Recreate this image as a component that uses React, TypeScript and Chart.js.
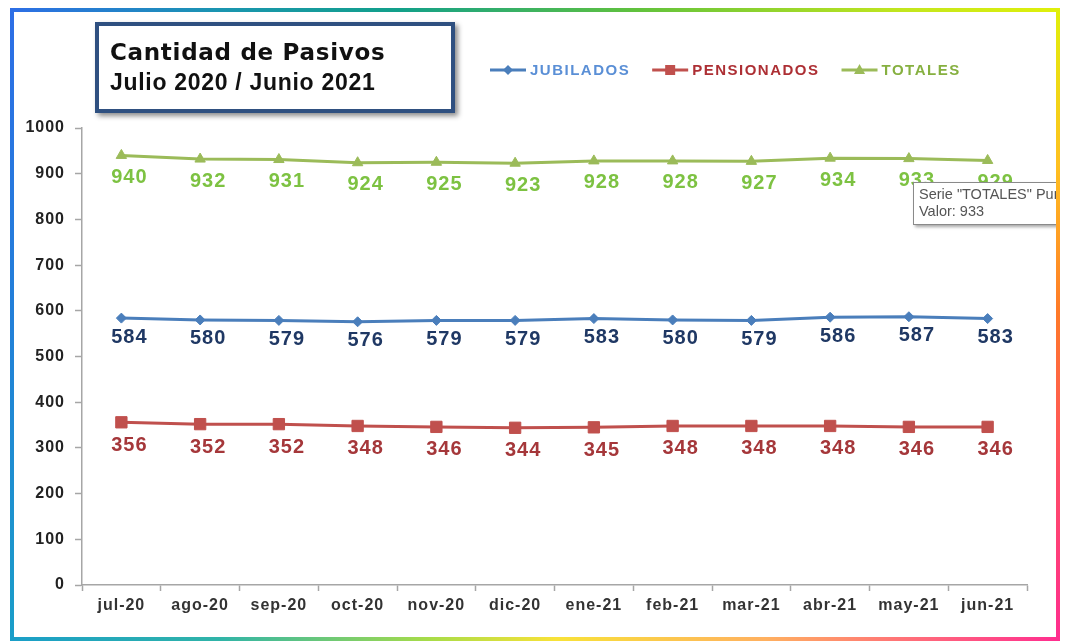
import React, { useEffect, useRef } from "react";
import { Chart, registerables } from "chart.js";

Chart.register(...registerables);

const MONTHS = ["jul-20", "ago-20", "sep-20", "oct-20", "nov-20", "dic-20", "ene-21", "feb-21", "mar-21", "abr-21", "may-21", "jun-21"];
const JUBILADOS = [584, 580, 579, 576, 579, 579, 583, 580, 579, 586, 587, 583];
const PENSIONADOS = [356, 352, 352, 348, 346, 344, 345, 348, 348, 348, 346, 346];
const TOTALES = [940, 932, 931, 924, 925, 923, 928, 928, 927, 934, 933, 929];
const SERIES_NAMES = ["JUBILADOS", "PENSIONADOS", "TOTALES"];
const Y_MIN = 0;
const Y_MAX = 1000;
const Y_STEP = 100;
const TITLE_LINES = ["Cantidad de Pasivos", "Julio 2020 / Junio 2021"];
const TOOLTIP_LINES = ['Serie "TOTALES" Punto "may-21"', "Valor: 933"];

const FONT = '"Liberation Sans", Arial, Helvetica, sans-serif';

const STYLE = [
  { line: "#4a7ebb", label: "#1f3864", legend: "#5a8fd6", marker: "diamond", pointStyle: "rectRot", radius: 5, offset: 19 },
  { line: "#c0504d", label: "#a5373a", legend: "#ad2f34", marker: "square", pointStyle: "rect", radius: 8, offset: 23 },
  { line: "#9bbb59", label: "#7dc242", legend: "#86b040", marker: "triangle", pointStyle: "triangle", radius: 6, offset: 22 },
];

function drawMarker(ctx: CanvasRenderingContext2D, kind: string, x: number, y: number, color: string) {
  ctx.fillStyle = color;
  ctx.beginPath();
  if (kind === "diamond") {
    ctx.moveTo(x, y - 5);
    ctx.lineTo(x + 5, y);
    ctx.lineTo(x, y + 5);
    ctx.lineTo(x - 5, y);
  } else if (kind === "square") {
    ctx.rect(x - 5, y - 5, 10, 10);
  } else {
    ctx.moveTo(x, y - 6);
    ctx.lineTo(x + 5.5, y + 4);
    ctx.lineTo(x - 5.5, y + 4);
  }
  ctx.closePath();
  ctx.fill();
}

const spacingPlugin = {
  id: "spacing",
  beforeDraw(chart: any) {
    (chart.ctx as any).letterSpacing = "1px";
  },
  afterDraw(chart: any) {
    (chart.ctx as any).letterSpacing = "0px";
  },
};

const labelPlugin = {
  id: "pointLabels",
  afterDatasetsDraw(chart: any) {
    const ctx = chart.ctx as CanvasRenderingContext2D;
    chart.data.datasets.forEach((ds: any, i: number) => {
      const meta = chart.getDatasetMeta(i);
      const st = STYLE[i];
      ctx.save();
      (ctx as any).letterSpacing = "1px";
      ctx.font = `bold 20px ${FONT}`;
      ctx.fillStyle = st.label;
      ctx.textAlign = "center";
      ctx.textBaseline = "middle";
      meta.data.forEach((pt: any, j: number) => {
        ctx.fillText(String(ds.data[j]), pt.x + 8, pt.y + st.offset);
      });
      ctx.restore();
    });
  },
};

const legendPlugin = {
  id: "customLegend",
  afterDraw(chart: any) {
    const ctx = chart.ctx as CanvasRenderingContext2D;
    ctx.save();
    (ctx as any).letterSpacing = "1.5px";
    ctx.font = `bold 15px ${FONT}`;
    ctx.textBaseline = "middle";
    ctx.textAlign = "left";
    let x = 490;
    const y = 70;
    SERIES_NAMES.forEach((name, i) => {
      const st = STYLE[i];
      ctx.strokeStyle = st.line;
      ctx.lineWidth = 3;
      ctx.beginPath();
      ctx.moveTo(x, y);
      ctx.lineTo(x + 36, y);
      ctx.stroke();
      drawMarker(ctx, st.marker, x + 18, y, st.line);
      ctx.fillStyle = st.legend;
      ctx.fillText(name, x + 40, y + 1);
      const w = ctx.measureText(name).width;
      x = x + 40 + w + 22;
    });
    ctx.restore();
  },
};

export default function App() {
  const canvasRef = useRef<HTMLCanvasElement | null>(null);

  useEffect(() => {
    if (!canvasRef.current) return;
    const values = [JUBILADOS, PENSIONADOS, TOTALES];
    const chart = new Chart(canvasRef.current, {
      type: "line",
      data: {
        labels: MONTHS,
        datasets: values.map((d, i) => ({
          label: SERIES_NAMES[i],
          data: d,
          borderColor: STYLE[i].line,
          backgroundColor: STYLE[i].line,
          borderWidth: 3,
          pointStyle: STYLE[i].pointStyle as any,
          pointRadius: STYLE[i].radius,
          pointBorderWidth: 1,
          pointBackgroundColor: STYLE[i].line,
          pointBorderColor: STYLE[i].line,
          tension: 0,
          fill: false,
        })),
      },
      options: {
        responsive: false,
        animation: false,
        devicePixelRatio: 1,
        layout: { padding: { left: 0, top: 128, right: 38, bottom: 0 } },
        plugins: {
          legend: { display: false },
          title: { display: false },
          tooltip: { enabled: false },
        },
        scales: {
          x: {
            type: "category",
            offset: true,
            grid: {
              offset: true,
              drawOnChartArea: false,
              drawTicks: true,
              tickLength: 6,
              color: "#a6a6a6",
              tickColor: "#a6a6a6",
              tickWidth: 1.5,
            },
            border: { display: true, color: "#a6a6a6", width: 1.5 },
            ticks: {
              font: { family: FONT, size: 16, weight: "bold" },
              color: "#333333",
              padding: 5,
              autoSkip: false,
              maxRotation: 0,
            },
            afterFit: (s: any) => {
              s.height = 56;
            },
          },
          y: {
            min: Y_MIN,
            max: Y_MAX,
            ticks: {
              stepSize: Y_STEP,
              font: { family: FONT, size: 16, weight: "bold" },
              color: "#222222",
              padding: 10,
              callback: (v: any) => String(v),
            },
            grid: {
              drawOnChartArea: false,
              drawTicks: true,
              tickLength: 7,
              color: "#a6a6a6",
              tickColor: "#a6a6a6",
              tickWidth: 1.5,
            },
            border: { display: true, color: "#a6a6a6", width: 1.5 },
            afterFit: (s: any) => {
              s.width = 82;
            },
          },
        },
      } as any,
      plugins: [spacingPlugin, labelPlugin, legendPlugin],
    });
    return () => chart.destroy();
  }, []);

  const frame = (style: React.CSSProperties): React.CSSProperties => ({
    position: "absolute",
    zIndex: 10,
    ...style,
  });

  return (
    <div style={{ position: "absolute", left: 0, top: 0, width: 1065, height: 641, background: "#ffffff", overflow: "hidden" }}>
      <canvas ref={canvasRef} width={1065} height={641} style={{ position: "absolute", left: 0, top: 0 }} />

      <div
        style={{
          position: "absolute",
          left: 95,
          top: 22,
          width: 360,
          height: 91,
          boxSizing: "border-box",
          border: "4px solid #2f5080",
          background: "#ffffff",
          boxShadow: "3px 3px 5px rgba(0,0,0,0.45)",
          color: "#111111",
        }}
      >
        <div
          style={{
            position: "absolute",
            left: 11,
            top: 15,
            fontFamily: '"DejaVu Sans", "Liberation Sans", Arial, sans-serif',
            fontSize: 23,
            lineHeight: "23px",
            fontWeight: "bold",
            letterSpacing: "0.7px",
            whiteSpace: "nowrap",
          }}
        >
          {TITLE_LINES[0]}
        </div>
        <div
          style={{
            position: "absolute",
            left: 11,
            top: 45,
            fontFamily: FONT,
            fontSize: 23,
            lineHeight: "23px",
            fontWeight: "bold",
            letterSpacing: "0.7px",
            whiteSpace: "nowrap",
          }}
        >
          {TITLE_LINES[1]}
        </div>
      </div>

      <div
        style={{
          position: "absolute",
          left: 913,
          top: 182,
          width: 150,
          height: 43,
          boxSizing: "border-box",
          border: "1px solid #8a8a8a",
          background: "#ffffff",
          boxShadow: "2px 2px 3px rgba(0,0,0,0.35)",
          fontFamily: FONT,
          fontSize: 14.5,
          lineHeight: "17px",
          color: "#555555",
          padding: "3px 0 0 5px",
          whiteSpace: "nowrap",
          overflow: "hidden",
        }}
      >
        <div>{TOOLTIP_LINES[0]}</div>
        <div>{TOOLTIP_LINES[1]}</div>
      </div>

      <div style={frame({ left: 10, top: 8, width: 1050, height: 4, background: "linear-gradient(to right, #2d6ee6 0%, #1a95b0 20%, #12a08a 37%, #62c23c 60%, #c2e61e 85%, #e0f00a 100%)" })} />
      <div style={frame({ left: 1056, top: 8, width: 4, height: 633, background: "linear-gradient(to bottom, #e0f00a 0%, #ffc020 25%, #ff7a28 48%, #ff4a6a 75%, #ff2d8f 100%)" })} />
      <div style={frame({ left: 10, top: 637, width: 1050, height: 4, background: "linear-gradient(to right, #1a9ec8 0%, #30b4a8 20%, #a8dc48 40%, #f8e238 52%, #ffb060 72%, #ff5a80 90%, #ff2d8f 100%)" })} />
      <div style={frame({ left: 10, top: 8, width: 4, height: 633, background: "linear-gradient(to bottom, #2d6ee6 0%, #2280d8 50%, #1a9ec8 100%)" })} />
      <div style={{ position: "absolute", left: 1060, top: 0, width: 5, height: 641, background: "#ffffff", zIndex: 11 }} />
    </div>
  );
}
